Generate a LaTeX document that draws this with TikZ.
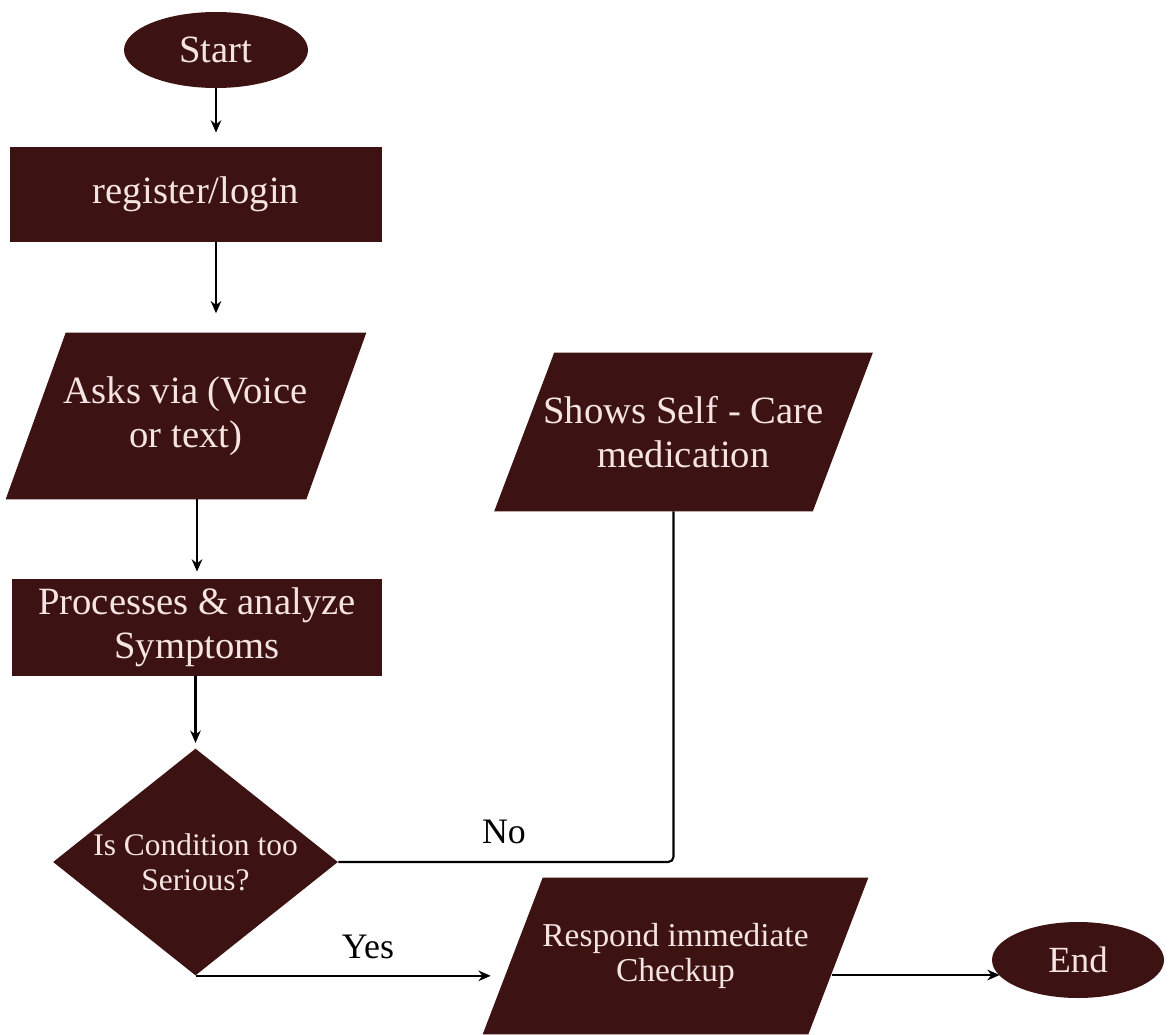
\documentclass[tikz,border=0pt]{standalone}
\usepackage{fontspec}
\setmainfont{Liberation Serif}
\usetikzlibrary{shapes.geometric,calc,backgrounds,arrows.meta}
\definecolor{maroon}{RGB}{60,18,18}
\definecolor{paletext}{RGB}{245,228,225}
\begin{document}
\begin{tikzpicture}[x=0.02cm,y=-0.02cm]
		\tikzstyle {block} = [rectangle, fill=maroon, text=paletext, inner sep=0pt, align=center, font=\fontsize{22}{25}\selectfont]
		\tikzstyle {para} = [rectangle, text=paletext, inner sep=0pt, align=center, font=\fontsize{22}{25}\selectfont]
		\tikzstyle {terminal} = [ellipse, fill=maroon, text=paletext, inner sep=0pt, minimum height=1.52cm, font=\fontsize{22}{25}\selectfont]
		\tikzstyle {question} = [diamond, fill=maroon, inner sep=0pt]
		\tikzstyle {qtext} = [text=paletext, align=center, font=\fontsize{17.9}{19.8}\selectfont]
		\tikzstyle {branch} = [font=\fontsize{20.4}{22}\selectfont]
		\tikzstyle {flow} = [-{Stealth[length=7pt,width=6pt]}, line width=1.2pt]

		\useasboundingbox (0,0) rectangle (1172,1034);

		\node[terminal, minimum width=3.68cm] (start) at (216,50) {Start};
		\node[block, minimum width=7.44cm, minimum height=1.9cm] (register) at (196,194.5) {register/login};
		\node[para, minimum width=6cm, minimum height=3.32cm] (asks) at (186,416) {Asks via (Voice\\or text)};
		\node[block, minimum width=7.4cm, minimum height=1.94cm] (processes) at (197,627.5) {Processes \& analyze\\Symptoms};
		\node[question, minimum width=5.7cm, minimum height=4.54cm, label={[qtext]center:Is Condition too\\Serious?}] (serious) at (195.5,862) {};
		\node[para, minimum width=6.36cm, minimum height=3.16cm] (shows) at (683.5,432) {Shows Self - Care\\medication};
		\node[para, minimum width=6.5cm, minimum height=3.12cm, font=\fontsize{19}{20.4}\selectfont] (respond) at (675.5,956) {Respond immediate\\Checkup};
		\node[terminal, minimum width=3.44cm, font=\fontsize{21}{24}\selectfont] (finish) at (1078,960) {End};

		% slanted input/output boxes
		\begin{scope}[on background layer]
			\foreach \n in {asks,shows,respond}
				\fill[maroon] ($(\n.north west)+(30,0)$) -- ($(\n.north east)+(30,0)$) -- ($(\n.south east)-(30,0)$) -- ($(\n.south west)-(30,0)$) -- cycle;
		\end{scope}

		\draw[flow, shorten >=8pt] (start.south) -- (start.south |- register.north);
		\draw[flow, shorten >=11pt] (register.south -| start.south) -- (asks.north -| start.south);
		\draw[flow, shorten >=4pt] (asks.south -| processes.north) -- (processes.north);
		\draw[flow, shorten >=3pt] (processes.south -| serious.north) -- (serious.north);

		\draw[line width=1.2pt, rounded corners=3pt] (serious.east) -| ($(shows.south)+(-10,0)$);
		\node[branch] (no) at (504,832) {No};

		\draw[flow, shorten >=12.5pt] (serious.south) -- (serious.south -| respond.west);
		\node[branch] (yes) at (368,947) {Yes};

		\draw[flow] ($(respond.east)+(-6,19)$) -- ($(finish.west)+(8,15)$);
\end{tikzpicture}
\end{document}
